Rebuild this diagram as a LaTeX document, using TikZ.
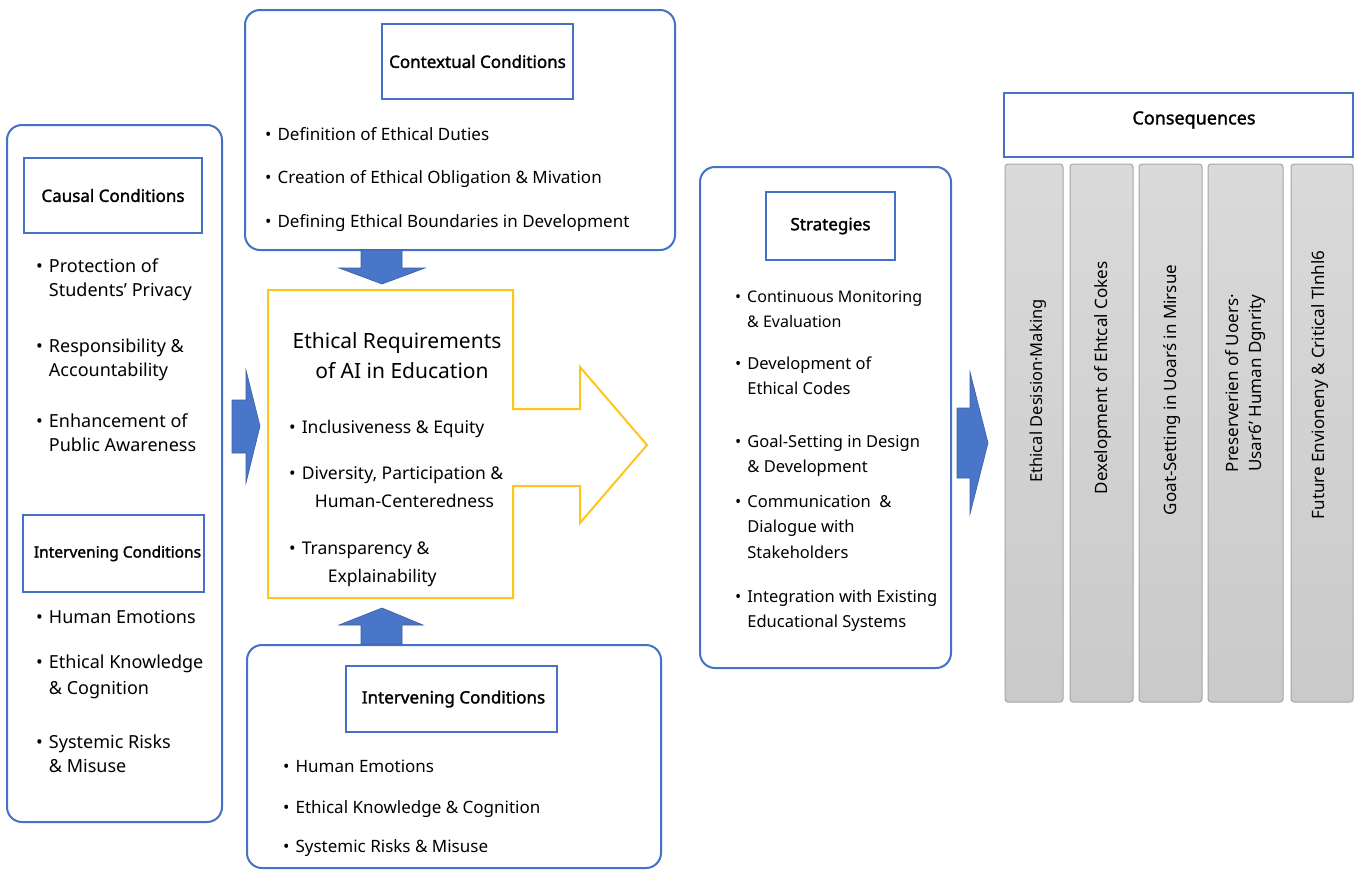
\documentclass[tikz,border=0pt]{standalone}
\usepackage{fontspec}
\setmainfont{Noto Sans}[AutoFakeBold=1.6]
\usetikzlibrary{positioning}

\definecolor{boxblue}{HTML}{4472C4}
\definecolor{arrowblue}{HTML}{4A76C9}
\definecolor{reqgold}{HTML}{FFC61A}
\definecolor{colgray}{HTML}{CACACA}
\definecolor{colline}{HTML}{A6A6A6}

% bullet item, continuation lines start with &
\newcommand{\blt}[1]{\begin{tabular}[t]{@{}l@{\hspace{6pt}}l@{}}\textbullet&#1\end{tabular}}

\tikzset{
  outerbox/.style={draw=boxblue, line width=2pt, rounded corners=15pt, inner sep=0pt},
  titlebox/.style={draw=boxblue, line width=2pt, inner sep=0pt, font=\fontsize{17}{20}\selectfont\bfseries},
  itemtext/.style={anchor=base west, inner sep=0pt, font=\fontsize{17}{24}\selectfont},
  blockarrow/.style={fill=arrowblue, draw=arrowblue!80!black, line width=0.6pt},
  column/.style={draw=colline, line width=1pt, rounded corners=3pt, top color=colgray!70, bottom color=colgray, inner sep=0pt},
  coltext/.style={rotate=90, inner sep=0pt, align=center, font=\fontsize{17}{23}\selectfont}
}

\begin{document}
\begin{tikzpicture}[x=1pt, y=-1pt]
  \fill[white] (0,0) rectangle (1357,870);
  \useasboundingbox (0,0) rectangle (1357,870);

  % causal + intervening column on the left
  \node[outerbox, minimum width=215pt, minimum height=697pt] (causal) at (114.5,473.5) {};
  \node[titlebox, minimum width=178pt, minimum height=75pt] (causaltitle) at (113,195.5) {Causal Conditions};
  \node[itemtext, font=\fontsize{18}{24}\selectfont] (c1) at (36,272) {\blt{Protection of\\&Students' Privacy}};
  \node[itemtext, font=\fontsize{18}{24}\selectfont] (c2) at (36,352) {\blt{Responsibility \&\\&Accountability}};
  \node[itemtext, font=\fontsize{18}{24}\selectfont] (c3) at (36,427) {\blt{Enhancement of\\&Public Awareness}};
  \node[titlebox, font=\fontsize{15.5}{20}\selectfont\bfseries, minimum width=181pt, minimum height=77pt] (intlefttitle) at (113.5,553.5) {\hspace{8pt}Intervening Conditions};
  \node[itemtext, font=\fontsize{18}{24}\selectfont] (i1) at (36,623) {\blt{Human Emotions}};
  \node[itemtext, font=\fontsize{18}{26}\selectfont] (i2) at (36,668) {\blt{Ethical Knowledge\\&\& Cognition}};
  \node[itemtext, font=\fontsize{18}{24}\selectfont] (i3) at (36,748) {\blt{Systemic Risks\\&\& Misuse}};

  % contextual conditions
  \node[outerbox, minimum width=430pt, minimum height=240pt] (context) at (460,130) {};
  \node[titlebox, minimum width=191pt, minimum height=75pt] (contexttitle) at (477.5,61.5) {Contextual Conditions};
  \node[itemtext] (k1) at (265,140) {\blt{Definition of Ethical Duties}};
  \node[itemtext] (k2) at (265,183) {\blt{Creation of Ethical Obligation \& Mivation}};
  \node[itemtext] (k3) at (265,227) {\blt{Defining Ethical Boundaries in Development}};

  % ethical requirements (yellow block arrow)
  \draw[reqgold, line width=2pt, line join=miter] (268,290) -- (513,290) -- (513,409) -- (580,409) -- (580,367)
    -- (647,445) -- (580,523) -- (580,486) -- (513,486) -- (513,598) -- (268,598) -- cycle;
  \node[align=center, inner sep=0pt, font=\fontsize{21}{30}\selectfont] (reqtitle) at (397,356)
    {Ethical Requirements\\\hspace{10pt}of AI in Education};
  \node[itemtext, font=\fontsize{17.5}{28}\selectfont] (r1) at (289,433) {\blt{Inclusiveness \& Equity}};
  \node[itemtext, font=\fontsize{17.5}{28}\selectfont] (r2) at (289,479) {\blt{Diversity, Participation \&\\&\hspace{13pt}Human-Centeredness}};
  \node[itemtext, font=\fontsize{17.5}{28}\selectfont] (r3) at (289,554) {\blt{Transparency \&\\&\hspace{26pt}Explainability}};

  % intervening conditions at the bottom
  \node[outerbox, minimum width=414pt, minimum height=223pt] (intbottom) at (454,756.5) {};
  \node[titlebox, minimum width=211pt, minimum height=66pt] (intbottomtitle) at (451.5,699) {\hspace{4pt}Intervening Conditions};
  \node[itemtext] (b1) at (283,772) {\blt{Human Emotions}};
  \node[itemtext] (b2) at (283,813) {\blt{Ethical Knowledge \& Cognition}};
  \node[itemtext] (b3) at (283,852) {\blt{Systemic Risks \& Misuse}};

  % strategies
  \node[outerbox, minimum width=251pt, minimum height=501pt] (strat) at (825.5,417.5) {};
  \node[titlebox, minimum width=129pt, minimum height=68pt] (strattitle) at (830.5,226) {Strategies};
  \node[itemtext, font=\fontsize{16}{25}\selectfont] (s1) at (735,302) {\blt{Continuous Monitoring\\&\& Evaluation}};
  \node[itemtext, font=\fontsize{16.5}{25}\selectfont] (s2) at (735,369) {\blt{Development of\\&Ethical Codes}};
  \node[itemtext, font=\fontsize{16.5}{25}\selectfont] (s3) at (735,447) {\blt{Goal-Setting in Design\\&\& Development}};
  \node[itemtext, font=\fontsize{16.5}{25.5}\selectfont] (s4) at (735,507) {\blt{Communication\ \ \&\\&Dialogue with\\&Stakeholders}};
  \node[itemtext, font=\fontsize{16.5}{25}\selectfont] (s5) at (735,602) {\blt{Integration with Existing\\&Educational Systems}};

  % blue block arrows
  \draw[blockarrow] (361,250) -- (402,250) -- (402,268) -- (425,268) -- (382,284) -- (339,268) -- (361,268) -- cycle;
  \draw[blockarrow] (361,644) -- (361,625) -- (339,625) -- (382,608) -- (423,625) -- (402,625) -- (402,644) -- cycle;
  \draw[blockarrow] (232,400) -- (246,400) -- (246,370) -- (260,426) -- (246,483) -- (246,453) -- (232,453) -- cycle;
  \draw[blockarrow] (957,408) -- (970,408) -- (970,372) -- (988,443) -- (970,514) -- (970,478) -- (957,478) -- cycle;

  % consequences
  \node[draw=boxblue, line width=1.5pt, minimum width=349pt, minimum height=64pt] (conshead) at (1178.5,125) {};
  \node[font=\fontsize{18}{20}\selectfont\bfseries] (constitle) at (1194,120) {Consequences};
  \node[column, minimum width=58pt, minimum height=538pt] (col1) at (1034,433) {};
  \node[column, minimum width=63pt, minimum height=538pt] (col2) at (1101.5,433) {};
  \node[column, minimum width=63pt, minimum height=538pt] (col3) at (1170.5,433) {};
  \node[column, minimum width=75pt, minimum height=538pt] (col4) at (1245.5,433) {};
  \node[column, minimum width=62pt, minimum height=538pt] (col5) at (1322,433) {};
  \node[coltext, font=\fontsize{16.5}{23}\selectfont] (q1) at (1038,391) {Ethical Desision·Making};
  \node[coltext] (q2) at (1103,378) {Dexelopment of Ehtcal Cokes};
  \node[coltext] (q3) at (1172,390) {Goat-Setting in Uoarś in Mirsue};
  \node[coltext] (q4) at (1246,383) {Preserverien of Uoers·\\Usar6' Human Dgnrity};
  \node[coltext] (q5) at (1320,385) {Future Envioneny \& Critical Tlnhl6};

\end{tikzpicture}
\end{document}
